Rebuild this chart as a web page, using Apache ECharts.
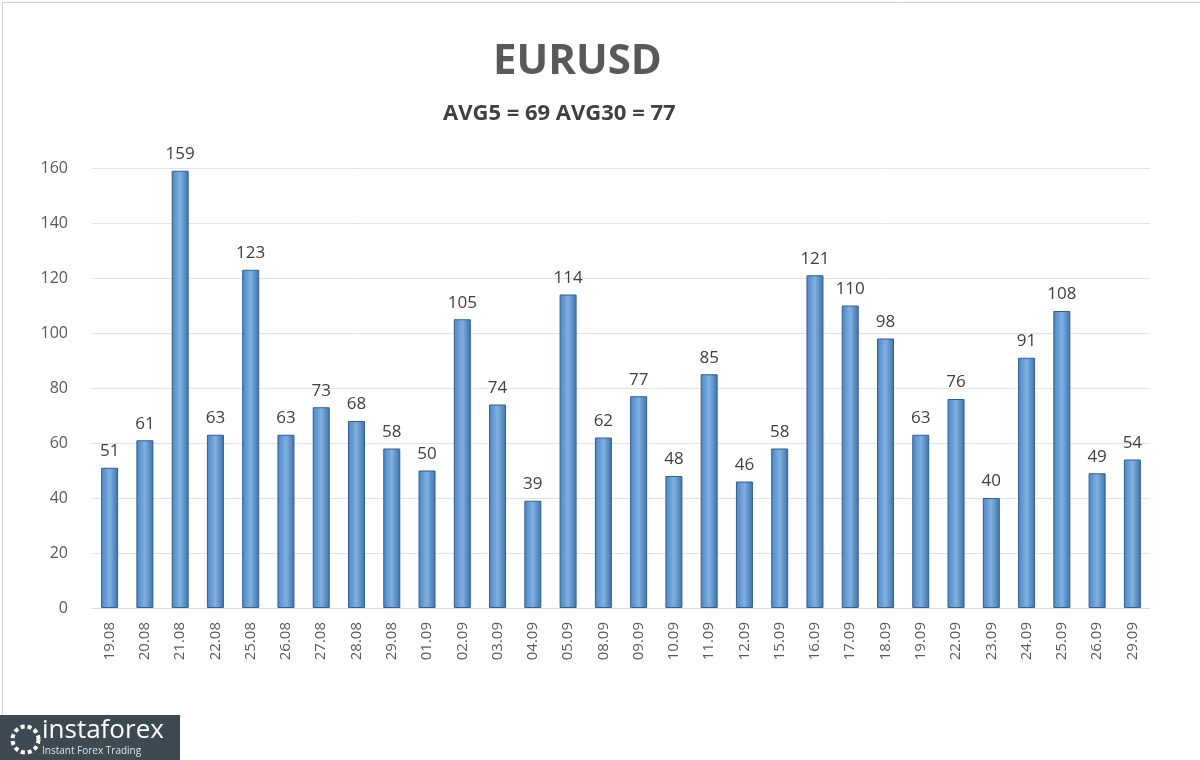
<!DOCTYPE html>
<html>
<head>
<meta charset="utf-8">
<script src="https://cdn.jsdelivr.net/npm/echarts@6/dist/echarts.min.js"></script>
<style>
  html, body { margin: 0; padding: 0; background: #fff; }
  #chart { width: 1200px; height: 760px; }
</style>
</head>
<body>
<div id="chart"></div>
<script>
const dates = ['19.08','20.08','21.08','22.08','25.08','26.08','27.08','28.08','29.08','01.09',
  '02.09','03.09','04.09','05.09','08.09','09.09','10.09','11.09','12.09','15.09',
  '16.09','17.09','18.09','19.09','22.09','23.09','24.09','25.09','26.09','29.09'];
const ranges = [51,61,159,63,123,63,73,68,58,50,105,74,39,114,62,77,48,85,46,58,
  121,110,98,63,76,40,91,108,49,54];
const yTicks = { min: 0, max: 160, interval: 20 };

const chart = echarts.init(document.getElementById('chart'));
chart.setOption({
  backgroundColor: '#fff',
  title: [
    { text: 'EURUSD', left: 488, top: 36,
      textStyle: { fontFamily: 'Open Sans', fontSize: 42, fontWeight: 'bold', color: '#595959' } },
    { text: 'AVG5 = 69 AVG30 = 77', left: 438, top: 98,
      textStyle: { fontFamily: 'Open Sans', fontSize: 22, fontWeight: 'bold', color: '#404040' } }
  ],
  grid: { left: 92, right: 50, top: 168, bottom: 152 },
  xAxis: {
    type: 'category',
    data: dates,
    axisTick: { show: false },
    axisLine: { lineStyle: { color: '#d9d9d9' } },
    axisLabel: { rotate: 90, color: '#595959', fontSize: 15, fontFamily: 'Open Sans', margin: 14 }
  },
  yAxis: {
    type: 'value',
    min: yTicks.min, max: yTicks.max, interval: yTicks.interval,
    axisLine: { show: false },
    axisTick: { show: false },
    axisLabel: { color: '#595959', fontSize: 16, fontFamily: 'Open Sans', margin: 24 },
    splitLine: { lineStyle: { color: '#e3e3e3' } }
  },
  series: [{
    type: 'bar',
    data: ranges,
    barWidth: 17,
    itemStyle: {
      color: new echarts.graphic.LinearGradient(0, 0, 1, 0, [
        { offset: 0, color: '#4a86c5' },
        { offset: 0.5, color: '#7fb0e0' },
        { offset: 1, color: '#3c72ad' }
      ]),
      borderColor: '#2f5f94',
      borderWidth: 1
    },
    label: { show: true, position: 'top', distance: 8, color: '#404040', fontSize: 17, fontFamily: 'Open Sans' }
  }],
  graphic: [
    { type: 'rect', left: 0, top: 0, shape: { width: 1199, height: 759 },
      style: { fill: 'none', stroke: '#d0d0d0', lineWidth: 1 } },
    { type: 'rect', left: 0, top: 715, shape: { width: 180, height: 45 },
      style: { fill: '#3d4a52' } },
    { type: 'text', left: 42, top: 718,
      style: { text: 'instaforex', fill: '#fff', font: '26px "Open Sans"' } },
    { type: 'text', left: 42, top: 746,
      style: { text: 'Instant Forex Trading', fill: '#dfe4e7', font: '10px "Open Sans"' } },
    { type: 'circle', left: 10, top: 724, shape: { r: 13 },
      style: { fill: 'none', stroke: '#fff', lineWidth: 4, lineDash: [4, 3] } }
  ]
});
</script>
</body>
</html>
